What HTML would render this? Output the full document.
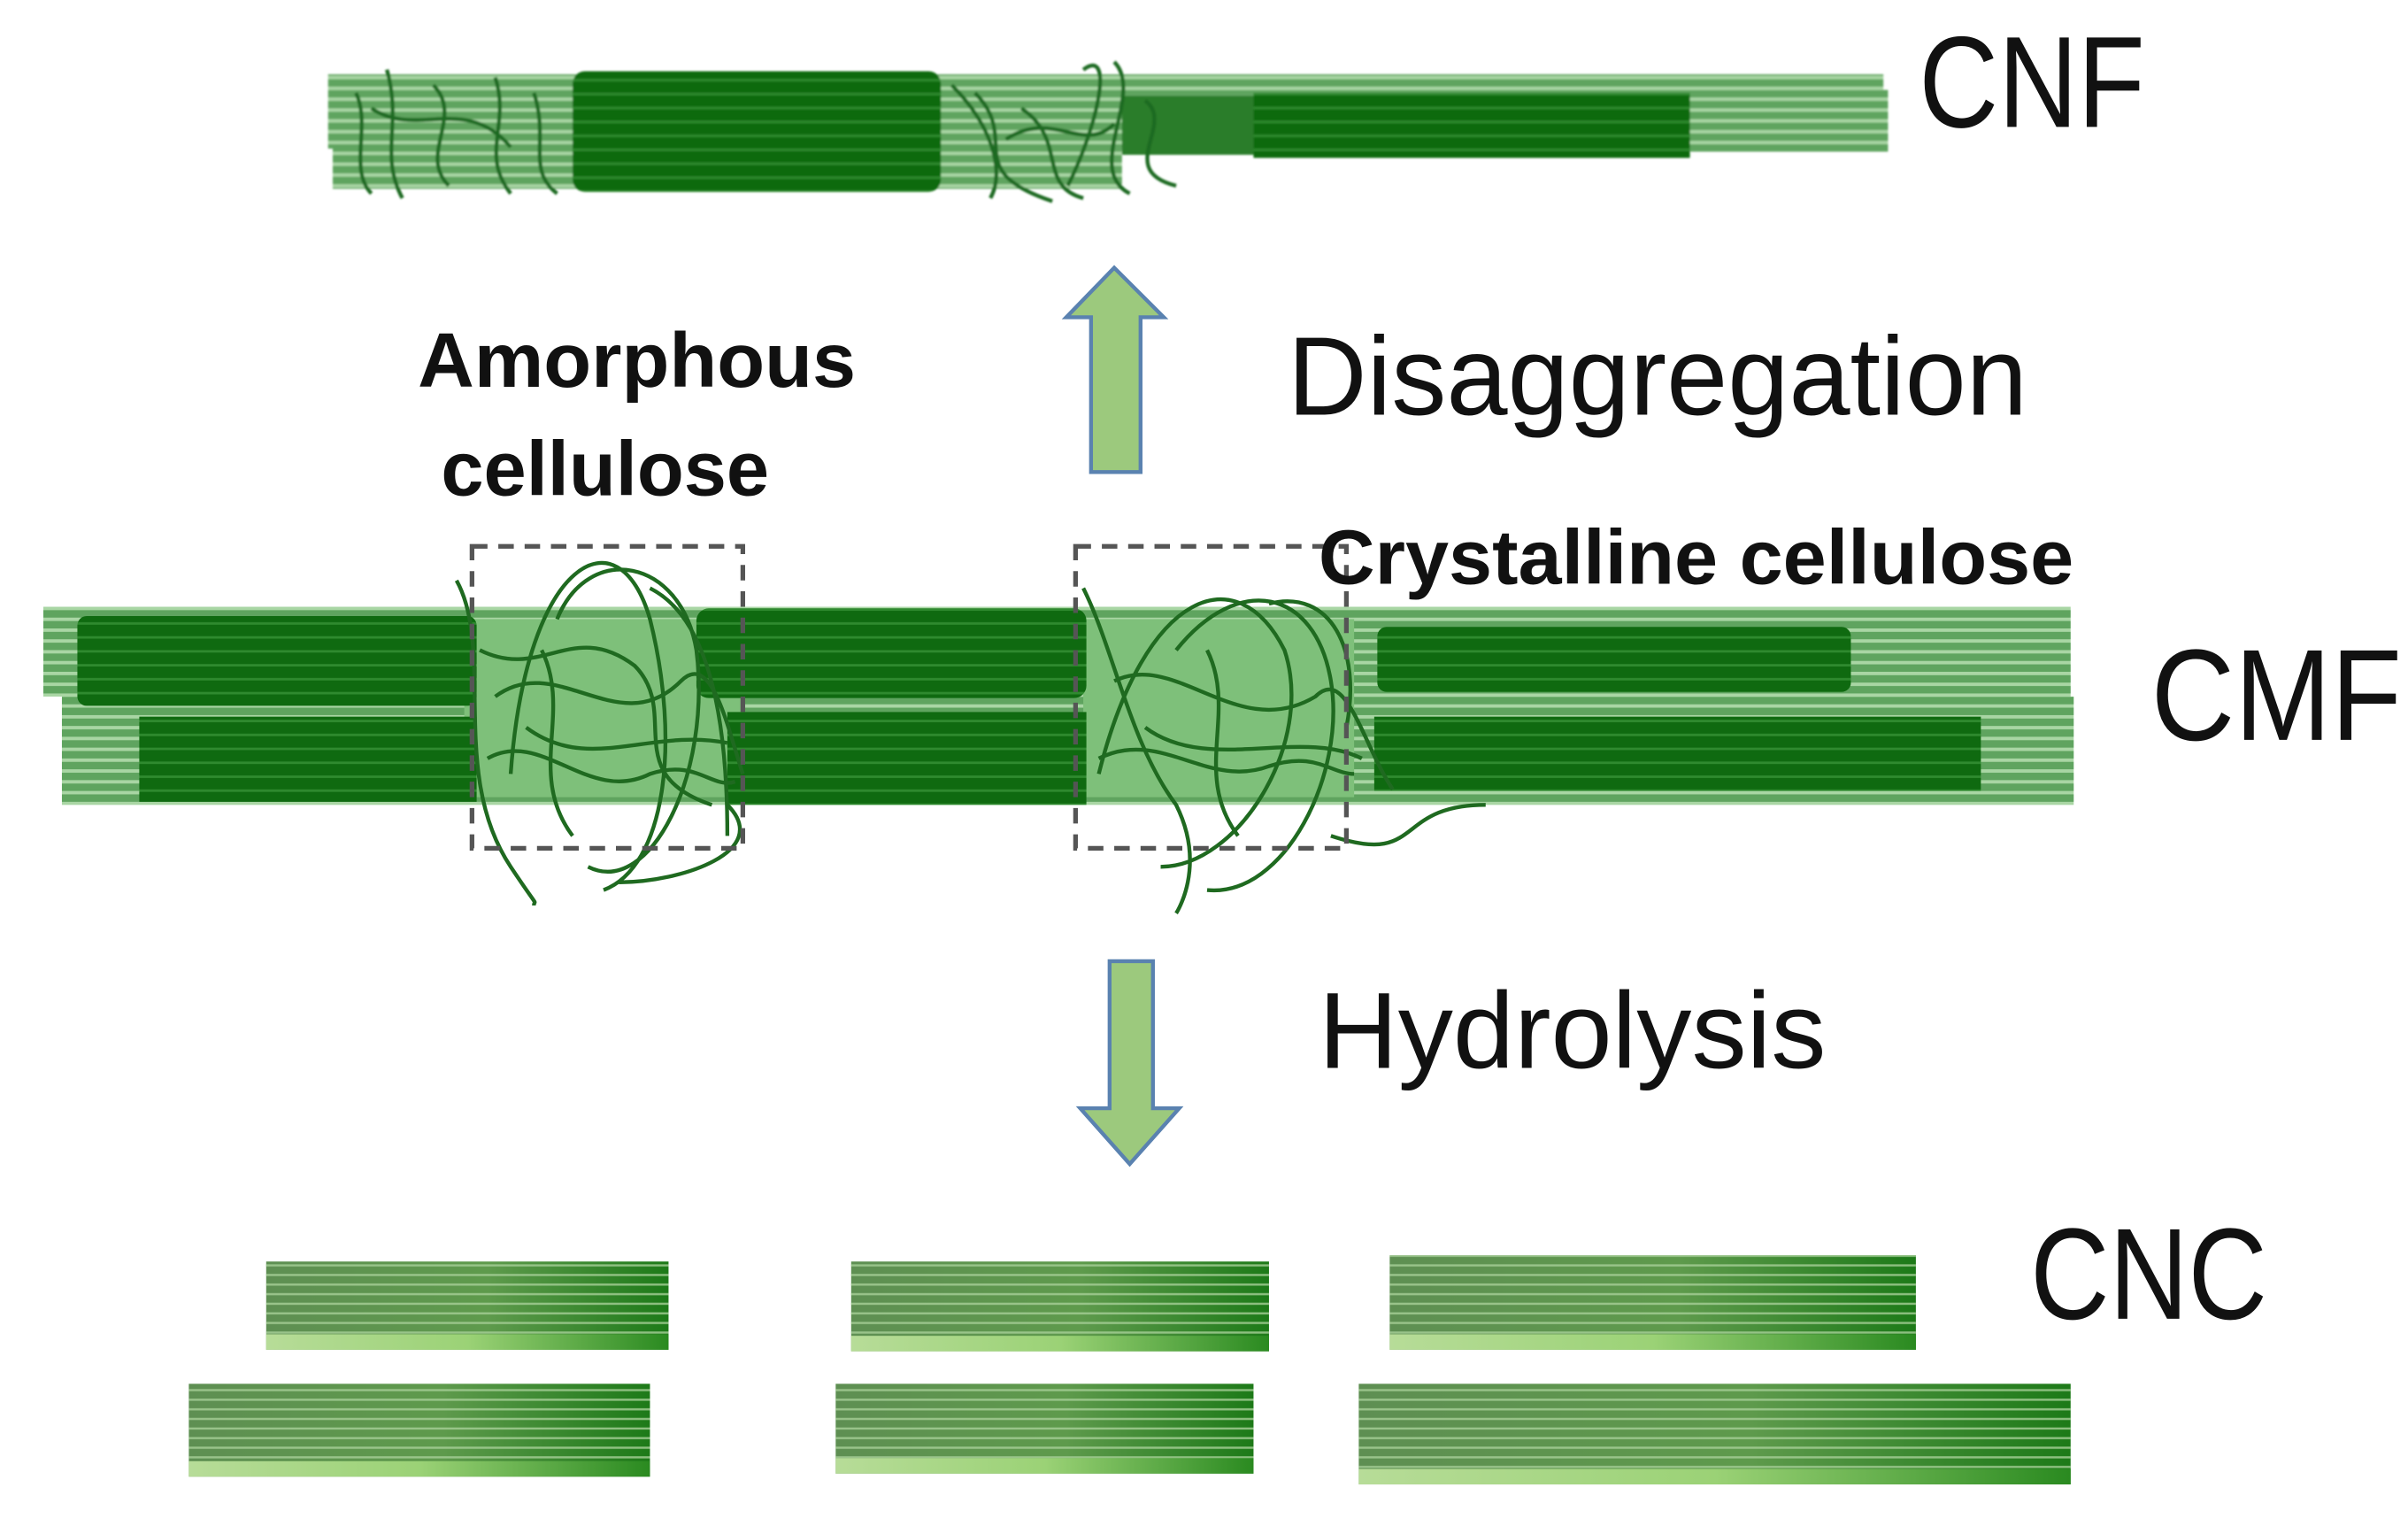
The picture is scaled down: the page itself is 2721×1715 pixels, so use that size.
<!DOCTYPE html>
<html><head><meta charset="utf-8"><style>
html,body{margin:0;padding:0;background:#fff;}
svg{display:block;}
text{font-family:"Liberation Sans",sans-serif;fill:#111;}
</style></head><body>
<svg width="2721" height="1715" viewBox="0 0 1556 980.7" xmlns="http://www.w3.org/2000/svg" preserveAspectRatio="none">
<defs>
<pattern id="strand" width="10" height="7" patternUnits="userSpaceOnUse">
<rect width="10" height="7" fill="#5fa45f"/><rect y="0" width="10" height="2.2" fill="#a9d6a4"/>
</pattern>
<pattern id="dark" width="10" height="9" patternUnits="userSpaceOnUse">
<rect width="10" height="9" fill="#0f6a10"/><rect y="6" width="10" height="1.6" fill="#2f8a2f"/>
</pattern>
<linearGradient id="cnc" x1="0" x2="1" y1="0" y2="0">
<stop offset="0" stop-color="#5e8f52"/><stop offset="0.55" stop-color="#5e9a4c"/><stop offset="1" stop-color="#1d7a18"/>
</linearGradient>
<linearGradient id="cncb" x1="0" x2="1" y1="0" y2="0">
<stop offset="0" stop-color="#b7dc98"/><stop offset="0.5" stop-color="#9bd276"/><stop offset="1" stop-color="#2a8a20"/>
</linearGradient>
<pattern id="cncl" width="10" height="6.2" patternUnits="userSpaceOnUse">
<rect y="4.6" width="10" height="1.4" fill="#a8cf98" opacity="0.8"/>
</pattern>
<filter id="soft"><feGaussianBlur stdDeviation="0.6"/></filter>
</defs>

<!-- CNF -->
<g filter="url(#soft)">
<rect x="212" y="48" width="1005" height="48" fill="url(#strand)"/>
<rect x="215" y="60" width="510" height="62" fill="url(#strand)"/>
<rect x="725" y="52" width="490" height="44" fill="url(#strand)"/>
<rect x="1090" y="58" width="130" height="40" fill="url(#strand)"/>
<rect x="370" y="46" width="238" height="78" rx="8" fill="url(#dark)"/>
<rect x="725" y="62" width="90" height="38" fill="#2a7d2a"/>
<rect x="810" y="60" width="282" height="42" fill="url(#dark)"/>
<g fill="none" stroke="#1f6a20" stroke-width="2.5">
<path d="M230 60 C240 80 225 110 240 125"/><path d="M250 45 C260 80 245 100 260 128"/>
<path d="M280 55 C300 75 270 100 290 120"/><path d="M320 50 C330 80 310 100 330 125"/>
<path d="M345 60 C355 90 340 110 360 125"/><path d="M615 55 C640 80 650 110 640 128"/>
<path d="M630 60 C660 90 620 110 680 130"/><path d="M700 45 C720 30 710 80 690 120"/>
<path d="M720 40 C740 60 700 110 730 125"/><path d="M660 70 C690 90 670 120 700 128"/>
<path d="M740 65 C760 80 720 110 760 120"/>
<path d="M240 70 C270 90 300 60 330 95"/><path d="M650 90 C680 70 700 100 720 80"/>
</g>
</g>

<!-- Up arrow -->
<path d="M720 173 L752 205 L737 205 L737 305 L705 305 L705 205 L689 205 Z" fill="#9cc97d" stroke="#5a82b0" stroke-width="2.5"/>

<!-- CMF -->
<g>
<rect x="28" y="392" width="1310" height="58" fill="url(#strand)"/>
<rect x="40" y="450" width="1300" height="70" fill="url(#strand)"/>
<rect x="300" y="400" width="180" height="115" fill="#7ec07a"/>
<rect x="700" y="400" width="175" height="115" fill="#7ec07a"/>
<rect x="50" y="398" width="258" height="58" rx="6" fill="url(#dark)"/>
<rect x="90" y="463" width="218" height="55" fill="url(#dark)"/>
<rect x="450" y="393" width="252" height="58" rx="8" fill="url(#dark)"/>
<rect x="470" y="460" width="232" height="60" fill="url(#dark)"/>
<rect x="890" y="405" width="306" height="42" rx="6" fill="url(#dark)"/>
<rect x="888" y="463" width="392" height="48" fill="url(#dark)"/>
<g fill="none" stroke="#1f6a20" stroke-width="2.5">
<path d="M295 375 C320 420 290 500 330 560 C350 590 345 580 345 585"/>
<path d="M330 500 C340 360 400 330 420 400 C440 480 430 560 390 575"/>
<path d="M360 400 C380 350 440 360 450 420 C460 500 420 580 380 560"/>
<path d="M320 450 C360 420 400 480 440 440 C460 420 470 470 480 500"/>
<path d="M310 420 C350 440 370 400 410 430 C440 460 400 500 460 520"/>
<path d="M340 470 C380 500 420 470 470 480"/>
<path d="M420 380 C460 400 470 470 470 540"/>
<path d="M470 520 C500 550 440 570 400 570"/>
<path d="M315 490 C350 470 380 520 420 500 C450 490 460 510 475 505"/>
<path d="M350 420 C370 460 340 500 370 540"/>
<path d="M700 380 C720 420 730 480 760 520 C780 560 760 590 760 590"/>
<path d="M710 500 C740 380 800 360 830 420 C850 480 800 560 750 560"/>
<path d="M760 420 C800 370 850 380 860 440 C870 500 830 580 780 575"/>
<path d="M720 440 C760 420 800 480 850 450 C870 430 880 480 900 510"/>
<path d="M740 470 C780 500 840 470 880 490"/>
<path d="M820 390 C860 380 880 420 870 470"/>
<path d="M860 540 C920 560 900 520 960 520"/>
<path d="M710 490 C750 470 780 510 820 495 C850 485 860 500 875 500"/>
<path d="M780 420 C800 460 770 500 800 540"/>
</g>
<g fill="none" stroke="#555" stroke-width="3" stroke-dasharray="10,7">
<rect x="305" y="353" width="175" height="195"/>
<rect x="695" y="353" width="175" height="195"/>
</g>
</g>

<!-- Down arrow -->
<path d="M717 621 L745 621 L745 716 L762 716 L730 752 L698 716 L717 716 Z" fill="#9cc97d" stroke="#5a82b0" stroke-width="2.5"/>

<!-- CNC bars -->
<g>
<rect x="172" y="815" width="260" height="57" fill="url(#cnc)"/><rect x="172" y="862" width="260" height="10" fill="url(#cncb)"/><rect x="172" y="815" width="260" height="47" fill="url(#cncl)"/>
<rect x="550" y="815" width="270" height="58" fill="url(#cnc)"/><rect x="550" y="863" width="270" height="10" fill="url(#cncb)"/><rect x="550" y="815" width="270" height="48" fill="url(#cncl)"/>
<rect x="898" y="811" width="340" height="61" fill="url(#cnc)"/><rect x="898" y="862" width="340" height="10" fill="url(#cncb)"/><rect x="898" y="811" width="340" height="51" fill="url(#cncl)"/>
<rect x="122" y="894" width="298" height="60" fill="url(#cnc)"/><rect x="122" y="944" width="298" height="10" fill="url(#cncb)"/><rect x="122" y="894" width="298" height="50" fill="url(#cncl)"/>
<rect x="540" y="894" width="270" height="58" fill="url(#cnc)"/><rect x="540" y="942" width="270" height="10" fill="url(#cncb)"/><rect x="540" y="894" width="270" height="48" fill="url(#cncl)"/>
<rect x="878" y="894" width="460" height="65" fill="url(#cnc)"/><rect x="878" y="949" width="460" height="10" fill="url(#cncb)"/><rect x="878" y="894" width="460" height="55" fill="url(#cncl)"/>
</g>

<!-- Labels -->
<text x="1240" y="82" font-size="84" textLength="146" lengthAdjust="spacingAndGlyphs">CNF</text>
<text x="832" y="268" font-size="72" textLength="478" lengthAdjust="spacingAndGlyphs">Disaggregation</text>
<text x="270" y="250" font-size="50" font-weight="bold" textLength="283" lengthAdjust="spacingAndGlyphs">Amorphous</text>
<text x="285" y="320" font-size="50" font-weight="bold" textLength="212" lengthAdjust="spacingAndGlyphs">cellulose</text>
<text x="852" y="377" font-size="50" font-weight="bold" textLength="488" lengthAdjust="spacingAndGlyphs">Crystalline cellulose</text>
<text x="1390" y="478" font-size="84" textLength="162" lengthAdjust="spacingAndGlyphs">CMF</text>
<text x="852" y="690" font-size="70" textLength="328" lengthAdjust="spacingAndGlyphs">Hydrolysis</text>
<text x="1312" y="852" font-size="84" textLength="153" lengthAdjust="spacingAndGlyphs">CNC</text>
</svg>
</body></html>
